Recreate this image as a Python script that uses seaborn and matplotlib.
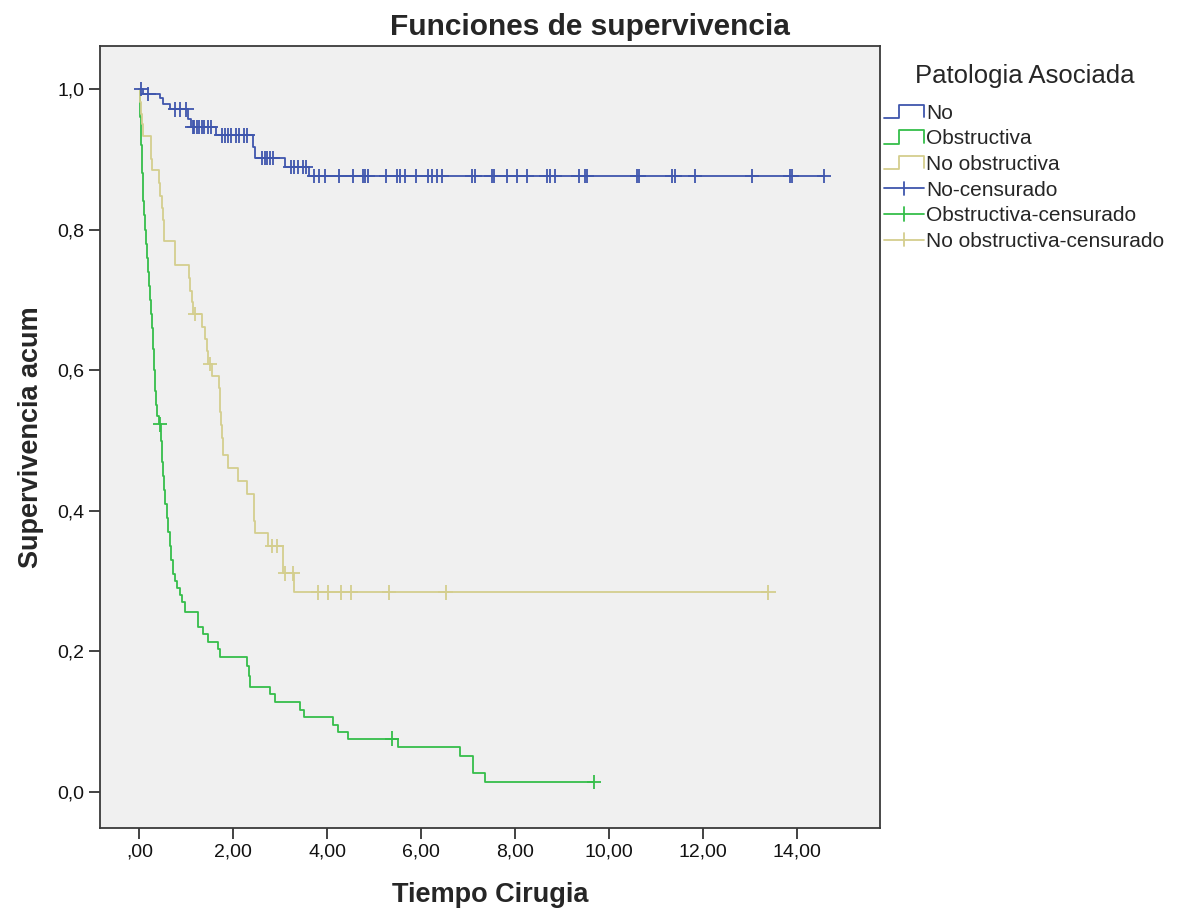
import numpy as np
import pandas as pd
import matplotlib
matplotlib.use("Agg")
import matplotlib.pyplot as plt
from matplotlib.lines import Line2D
from matplotlib.legend_handler import HandlerBase
from matplotlib.ticker import FuncFormatter, MultipleLocator
import seaborn as sns

# ---- Kaplan-Meier estimates per group (event times and survival after each event) ----
groups = ["No", "Obstructiva", "No obstructiva"]
colors = {"No": "#3F56AD", "Obstructiva": "#35BE4A", "No obstructiva": "#D4CE8E"}

no_event_t = [0.08, 0.44, 0.51, 0.65, 1.04, 1.10, 1.64, 2.42, 2.47, 3.10, 3.62]
no_event_s = [0.993, 0.987, 0.978, 0.971, 0.957, 0.946, 0.934, 0.918, 0.902, 0.889, 0.876]
no_cens_t = [0.04, 0.19, 0.76, 0.86, 1.00, 1.13, 1.17, 1.22, 1.27, 1.33, 1.38, 1.45,
             1.52, 1.75, 1.82, 1.88, 1.95, 2.05, 2.12, 2.22, 2.30, 2.62, 2.67, 2.72,
             2.78, 2.84, 3.22, 3.30, 3.38, 3.48, 3.54, 3.72, 3.83, 3.95, 4.26, 4.55,
             4.75, 4.80, 4.87, 5.26, 5.48, 5.55, 5.65, 5.89, 6.15, 6.22, 6.33, 6.44,
             7.08, 7.14, 7.50, 7.54, 7.82, 8.03, 8.25, 8.67, 8.74, 8.85, 9.35, 9.49,
             9.52, 10.60, 10.64, 11.35, 11.40, 11.83, 13.04, 13.85, 13.89, 14.58]

ob_event_t = [0.01, 0.02, 0.03, 0.04, 0.05, 0.06, 0.07, 0.08, 0.10, 0.12, 0.14, 0.16,
              0.18, 0.21, 0.23, 0.25, 0.27, 0.29, 0.31, 0.33, 0.35, 0.38, 0.41, 0.46,
              0.48, 0.50, 0.52, 0.55, 0.58, 0.61, 0.64, 0.67, 0.71, 0.75, 0.80, 0.86,
              0.90, 0.96, 1.25, 1.36, 1.47, 1.68, 1.71, 2.28, 2.33, 2.36, 2.78, 2.88,
              3.42, 3.50, 4.13, 4.23, 4.45, 5.50, 6.83, 7.10, 7.36]
ob_event_s = [0.98, 0.96, 0.94, 0.92, 0.90, 0.88, 0.86, 0.84, 0.82, 0.80, 0.78, 0.76,
              0.74, 0.72, 0.70, 0.68, 0.66, 0.63, 0.60, 0.57, 0.55, 0.535, 0.523, 0.50,
              0.47, 0.45, 0.43, 0.41, 0.39, 0.37, 0.35, 0.33, 0.31, 0.30, 0.29, 0.28,
              0.27, 0.256, 0.235, 0.225, 0.214, 0.204, 0.192, 0.180, 0.165, 0.150, 0.139, 0.128,
              0.117, 0.107, 0.096, 0.086, 0.076, 0.064, 0.052, 0.027, 0.0147]
ob_cens_t = [0.44, 5.38, 9.68]

nob_event_t = [0.02, 0.04, 0.06, 0.08, 0.24, 0.25, 0.26, 0.42, 0.44, 0.48, 0.50, 0.53,
               0.75, 0.76, 1.06, 1.08, 1.12, 1.14, 1.33, 1.40, 1.44, 1.46, 1.54, 1.70,
               1.71, 1.72, 1.74, 1.76, 1.78, 1.89, 2.10, 2.28, 2.43, 2.45, 2.47, 2.74,
               3.05, 3.06, 3.29]
nob_event_s = [0.982, 0.964, 0.950, 0.933, 0.917, 0.900, 0.884, 0.866, 0.848, 0.830, 0.813, 0.784,
               0.766, 0.749, 0.731, 0.713, 0.697, 0.680, 0.661, 0.644, 0.627, 0.609, 0.592, 0.575,
               0.557, 0.540, 0.522, 0.504, 0.480, 0.461, 0.443, 0.424, 0.405, 0.386, 0.368, 0.350,
               0.331, 0.311, 0.284]
nob_cens_t = [1.18, 1.50, 2.82, 2.92, 3.10, 3.26, 3.81, 4.02, 4.29, 4.50, 5.31, 6.52, 13.39]

series = {
    "No": (no_event_t, no_event_s, no_cens_t),
    "Obstructiva": (ob_event_t, ob_event_s, ob_cens_t),
    "No obstructiva": (nob_event_t, nob_event_s, nob_cens_t),
}

# ---- build step curves and censoring marks ----
curve_rows, cens_rows = [], []
for g, (et, es, ct) in series.items():
    et = np.asarray(et); es = np.asarray(es); ct = np.asarray(ct)
    t_end = max(et.max(), ct.max())
    xs = np.concatenate([[0.0], et, [t_end]])
    ys = np.concatenate([[1.0], es, [es[-1]]])
    for x, y in zip(xs, ys):
        curve_rows.append((g, x, y))
    idx = np.searchsorted(et, ct, side="right") - 1
    lvl = np.where(idx >= 0, es[np.clip(idx, 0, None)], 1.0)
    for x, y in zip(ct, lvl):
        cens_rows.append((g, x, y))

curves = pd.DataFrame(curve_rows, columns=["grupo", "t", "S"])
cens = pd.DataFrame(cens_rows, columns=["grupo", "t", "S"])

# ---- style ----
sns.set_style("ticks")
plt.rcParams["font.family"] = ["Liberation Sans", "DejaVu Sans"]

fig = plt.figure(figsize=(11.81, 9.19), dpi=100)
ax = fig.add_axes([100 / 1181, 1 - 828 / 919, 780 / 1181, 782 / 919])
ax.set_facecolor("#F0F0F0")

sns.lineplot(data=curves, x="t", y="S", hue="grupo", hue_order=groups,
             palette=colors, estimator=None, sort=False, drawstyle="steps-post",
             linewidth=1.3, legend=False, ax=ax)
sns.scatterplot(data=cens, x="t", y="S", hue="grupo", hue_order=groups,
                palette=colors, marker="+", s=110, linewidth=1.3,
                legend=False, ax=ax, zorder=3)

ax.set_xlim(-0.84, 15.77)
ax.set_ylim(-0.051, 1.061)
ax.xaxis.set_major_locator(MultipleLocator(2))
ax.yaxis.set_major_locator(MultipleLocator(0.2))


def fmt_x(v, pos):
    s = f"{v:.2f}".replace(".", ",")
    return s[1:] if s.startswith("0,") else s


ax.xaxis.set_major_formatter(FuncFormatter(fmt_x))
ax.yaxis.set_major_formatter(FuncFormatter(lambda v, p: f"{v:.1f}".replace(".", ",")))
ax.tick_params(axis="both", labelsize=14, length=8, width=1.2, color="#222222",
               labelcolor="#111111", pad=3)
for sp in ax.spines.values():
    sp.set_visible(True)
    sp.set_color("#3A3A3A")
    sp.set_linewidth(1.3)

ax.set_xlabel("Tiempo Cirugia", fontsize=19.5, fontweight="bold", labelpad=16)
ax.set_ylabel("Supervivencia acum", fontsize=19.5, fontweight="bold", labelpad=10)
# title centred on the whole figure rather than on the axes
ax.set_title("Funciones de supervivencia", fontsize=21.5, fontweight="bold", pad=8,
             x=(590 - 100) / 780)


# ---- legend with step-shaped and censor-mark icons ----
class StepHandler(HandlerBase):
    def create_artists(self, legend, orig, xd, yd, w, h, fontsize, trans):
        x0, y0 = -xd, -yd
        xs = [x0, x0 + 0.38 * w, x0 + 0.38 * w, x0 + w, x0 + w]
        ys = [y0 + 0.05 * h, y0 + 0.05 * h, y0 + 0.95 * h, y0 + 0.95 * h, y0 + 0.1 * h]
        ln = Line2D(xs, ys, color=orig.get_color(), lw=1.3, transform=trans)
        return [ln]


class CensHandler(HandlerBase):
    def create_artists(self, legend, orig, xd, yd, w, h, fontsize, trans):
        x0, y0 = -xd, -yd
        ln = Line2D([x0, x0 + w], [y0 + h / 2] * 2, color=orig.get_color(), lw=1.3,
                    transform=trans)
        tick = Line2D([x0 + w * 0.5] * 2, [y0 + 0.05 * h, y0 + 0.95 * h],
                      color=orig.get_color(), lw=1.3, transform=trans)
        return [ln, tick]


step_handles = [Line2D([], [], color=colors[g]) for g in groups]
cens_handles = [Line2D([], [], color=colors[g]) for g in groups]
handler_map = {h: StepHandler() for h in step_handles}
handler_map.update({h: CensHandler() for h in cens_handles})
labels = groups + [f"{g}-censurado" for g in groups]

leg = fig.legend(step_handles + cens_handles, labels, handler_map=handler_map,
                 loc="upper left", bbox_to_anchor=(876 / 1181, 1 - 56 / 919),
                 frameon=False, fontsize=15, title="Patologia Asociada",
                 title_fontsize=18.5, handlelength=1.9, handletextpad=0.12,
                 labelspacing=0.32, borderaxespad=0)
leg._legend_box.sep = 11

fig.savefig("out.png", dpi=100, facecolor="white")
